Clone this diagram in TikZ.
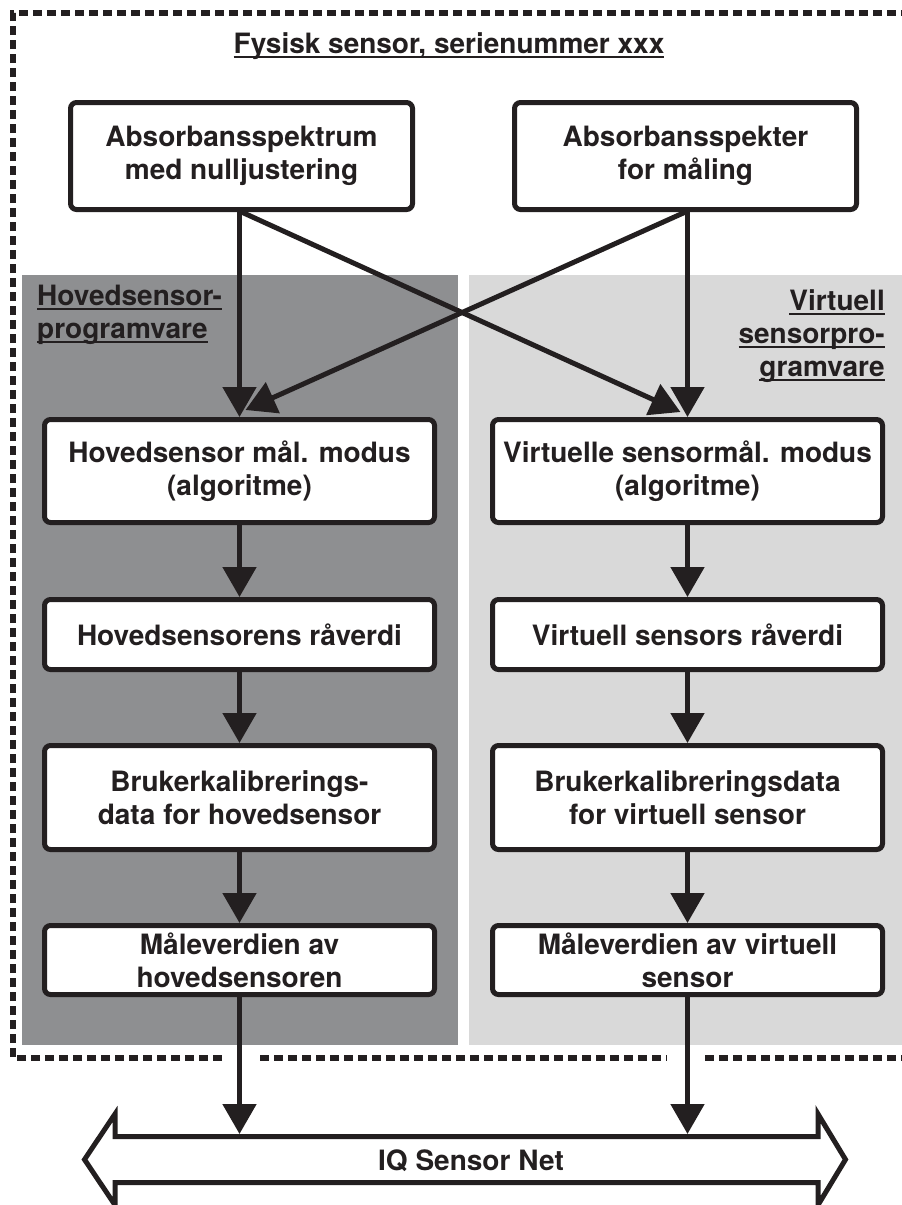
\documentclass[tikz,border=0pt]{standalone}
\usepackage{fontspec}
\setmainfont{TeX Gyre Heros}
\usetikzlibrary{arrows.meta}
\definecolor{ink}{HTML}{231F20}
\definecolor{darkpanel}{HTML}{8E8F91}
\definecolor{lightpanel}{HTML}{D9D9D9}
\newcommand{\ulin}[1]{\setbox0=\hbox{#1}\rlap{\rule[-4.5pt]{\wd0}{2pt}}\box0}
\begin{document}
\begin{tikzpicture}[x=1pt,y=-1pt,
  font=\fontsize{28}{33}\selectfont\bfseries, text=ink,
  box/.style={draw=ink, line width=5pt, rounded corners=6pt, fill=white, align=center, inner sep=0pt},
  arr/.style={draw=ink, line width=5pt, -{Triangle[width=33pt,length=30pt]}},
  frame/.style={draw=ink, line width=5.5pt, dash pattern=on 9pt off 5pt},
  lbl/.style={inner sep=0pt}
]
\useasboundingbox (0,0) rectangle (902,1205);
% panels
\fill[darkpanel] (22,275) rectangle (458,1045);
\fill[lightpanel] (469,275) rectangle (902,1045);
% dashed frame
\draw[frame] (222,1058) -- (13,1058) -- (13,13) -- (906,13);
\draw[frame] (260,1058) -- (667,1058);
\draw[frame] (705,1058) -- (906,1058);
% title
\node[lbl, anchor=base] (title) at (449,53) {\ulin{Fysisk sensor, serienummer xxx}};
% panel labels
\node[lbl, anchor=north west, align=left] (lblL) at (37,285) {\ulin{Hovedsensor-}\\\ulin{programvare}};
\node[lbl, anchor=north east, align=right] (lblR) at (885,289.5) {\ulin{Virtuell}\\\ulin{sensorpro-}\\\ulin{gramvare}};
% boxes
\node[box, minimum width=342pt, minimum height=107pt] (tl) at (241.5,156) {Absorbansspektrum\\med nulljustering};
\node[box, minimum width=342pt, minimum height=107pt] (tr) at (685.5,156) {Absorbansspekter\\for måling};
\node[box, minimum width=390pt, minimum height=103pt] (ml) at (239.5,471) {Hovedsensor mål. modus\\(algoritme)};
\node[box, minimum width=390pt, minimum height=103pt] (mr) at (687.5,471) {Virtuelle sensormål. modus\\(algoritme)};
\node[box, minimum width=390pt, minimum height=70pt] (rl) at (239.5,634.5) {Hovedsensorens råverdi};
\node[box, minimum width=390pt, minimum height=70pt] (rr) at (687.5,634.5) {Virtuell sensors råverdi};
\node[box, minimum width=390pt, minimum height=104pt] (cl) at (239.5,797.5) {Brukerkalibrerings-\\data for hovedsensor};
\node[box, minimum width=390pt, minimum height=104pt] (cr) at (687.5,797.5) {Brukerkalibreringsdata\\for virtuell sensor};
\node[box, minimum width=390pt, minimum height=69pt] (vl) at (239.5,960) {Måleverdien av\\hovedsensoren};
\node[box, minimum width=390pt, minimum height=69pt] (vr) at (687.5,960) {Måleverdien av virtuell\\sensor};
% bus
\draw[draw=ink, fill=white, line width=5pt]
  (115,1136.5) -- (818,1136.5) -- (818,1114) -- (845.5,1159.5) -- (818,1205)
  -- (818,1182.5) -- (115,1182.5) -- (115,1205) -- (84.5,1159.5) -- (115,1114) -- cycle;
\node[lbl, anchor=base] (bus) at (471,1170) {IQ Sensor Net};
\coordinate (busL) at (239.5,1134);
\coordinate (busR) at (687.5,1134);
% connectors
\draw[arr] (ml.north |- tl.south) -- (ml.north);
\draw[arr] (mr.north |- tr.south) -- (mr.north);
\draw[arr] (tl.south) -- ([xshift=-7pt,yshift=5pt]mr.north);
\draw[arr] (tr.south) -- ([xshift=6pt,yshift=7pt]ml.north);
\draw[arr] (ml.south) -- (rl.north);
\draw[arr] (mr.south) -- (rr.north);
\draw[arr] (rl.south) -- (cl.north);
\draw[arr] (rr.south) -- (cr.north);
\draw[arr] (cl.south) -- (vl.north);
\draw[arr] (cr.south) -- (vr.north);
\draw[arr] (vl.south) -- (busL);
\draw[arr] (vr.south) -- (busR);
\end{tikzpicture}
\end{document}
